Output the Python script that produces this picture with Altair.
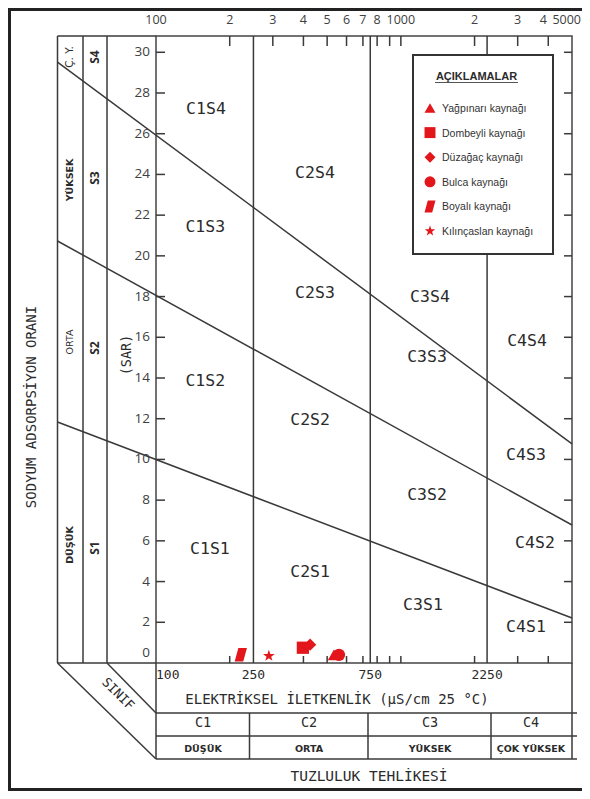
import altair as alt
import pandas as pd

# ---------------- data ----------------
SPRINGS = ["Yağpınarı kaynağı", "Dombeyli kaynağı", "Düzağaç kaynağı",
           "Bulca kaynağı", "Boyalı kaynağı", "Kılınçaslan kaynağı"]
SPRING_EC = [533, 398, 426, 559, 222, 289]          # µS/cm
SPRING_SAR = [0.40, 0.75, 0.90, 0.40, 0.40, 0.35]

CLASS_BOUNDS = [250, 750, 2250]                    # C1/C2, C2/C3, C3/C4

S_LINE_ID = ["S1/S2", "S1/S2", "S2/S3", "S2/S3", "S3/S4", "S3/S4"]
S_LINE_EC = [39.6, 5000, 39.6, 5000, 39.6, 5000]
S_LINE_SAR = [11.84, 2.21, 20.73, 6.78, 29.52, 10.76]

ZONE_LABELS = ["C1S4", "C1S3", "C1S2", "C1S1", "C2S4", "C2S3", "C2S2", "C2S1",
               "C3S4", "C3S3", "C3S2", "C3S1", "C4S4", "C4S3", "C4S2", "C4S1"]
ZONE_EC = [160, 159, 159, 166, 446, 446, 426, 426,
           1315, 1279, 1279, 1231, 3275, 3244, 3530, 3244]
ZONE_SAR = [27.2, 21.4, 13.85, 5.6, 24.07, 18.18, 11.94, 4.47,
            17.98, 15.03, 8.25, 2.85, 15.82, 10.22, 5.89, 1.77]

TOP_LABEL_VALUES = [100, 200, 300, 400, 500, 600, 700, 800, 1000, 2000, 3000]
TOP_LABELS = ["100", "2", "3", "4", "5", "6", "7", "8", "1000", "2", "3"]
TOP_4000_VALUE = [4000]
TOP_4000_LABEL = ["4"]
TOP_LAST_VALUE = [5000]
TOP_LAST_LABEL = ["5000"]
TOP_TICKS = [200, 300, 400, 500, 600, 700, 800, 900, 1000, 2000, 3000, 4000]
BOTTOM_TICKS = [200, 400, 500, 600, 700, 800, 900, 1000, 2000, 3000, 4000]
BOTTOM_LABEL_VALUES = [250, 750, 2250]
BOTTOM_FIRST_VALUE = [100]
SAR_TICKS = [2, 4, 6, 8, 10, 12, 14, 16, 18, 20, 22, 24, 26, 28, 30]
SAR_ZERO = [0]

C_CLASSES = ["C1", "C2", "C3", "C4"]
C_HAZARD = ["DÜŞÜK", "ORTA", "YÜKSEK", "ÇOK YÜKSEK"]
S_CLASSES = ["S4", "S3", "S2", "S1"]
S_HAZARD = ["Ç. Y.", "YÜKSEK", "ORTA", "DÜŞÜK"]

# ---------------- style / layout ----------------
W, H = 416, 627
RED = "#e2161b"
LINE = "#3a3a3a"
TXT = "#2b2b2b"
NUM = "#404040"
MONO = "DejaVu Sans Mono"
SANS = "Open Sans"
LEG = "Liberation Sans"
STAR = ("M0,-1L0.235,-0.324L0.951,-0.309L0.38,0.124L0.588,0.809L0,0.4"
        "L-0.588,0.809L-0.38,0.124L-0.951,-0.309L-0.235,-0.324Z")
PARA = "M-0.4,-1.1L1,-1.1L0.4,1.1L-1,1.1Z"
SHAPES = ["triangle-up", "square", "diamond", "circle", PARA, STAR]

xscale = alt.Scale(type="log", domain=[100, 5000], nice=False)
yscale = alt.Scale(domain=[0, 30.8], nice=False, zero=False)

base = alt.Chart(pd.DataFrame({"k": [0]}))


def X(field="EC"):
    return alt.X(f"{field}:Q", scale=xscale, axis=None)


def Y(field="SAR"):
    return alt.Y(f"{field}:Q", scale=yscale, axis=None)


def vrule(x1, y1, x2, y2, w=1.5, color=LINE):
    return base.mark_rule(strokeWidth=w, color=color).encode(
        x=alt.value(x1), y=alt.value(y1), x2=alt.value(x2), y2=alt.value(y2))


def vtext(txt, x, y, size, font, weight="normal", angle=0, align="center", color=TXT):
    return base.mark_text(text=txt, fontSize=size, font=font, fontWeight=weight,
                          angle=angle, align=align, baseline="middle", color=color).encode(
        x=alt.value(x), y=alt.value(y))


layers = []

# class boundary verticals
layers.append(alt.Chart(pd.DataFrame({"EC": CLASS_BOUNDS})).mark_rule(strokeWidth=1.5, color=LINE).encode(
    x=X(), y=alt.value(0), y2=alt.value(H)))

# sodium hazard boundary lines
sdf = pd.DataFrame({"line": S_LINE_ID, "EC": S_LINE_EC, "SAR": S_LINE_SAR})
layers.append(alt.Chart(sdf).mark_line(strokeWidth=1.5, color=LINE).encode(
    x=X(), y=Y(), detail="line:N"))

# SAR axis labels
layers.append(alt.Chart(pd.DataFrame({"SAR": SAR_TICKS})).mark_text(
    font=SANS, fontSize=13.5, color=NUM, align="right", baseline="middle", dx=-6).encode(
    y=Y(), x=alt.value(0), text="SAR:Q"))
layers.append(alt.Chart(pd.DataFrame({"SAR": SAR_ZERO})).mark_text(
    font=SANS, fontSize=13.5, color=NUM, align="right", baseline="middle", dx=-6, dy=-10).encode(
    y=Y(), x=alt.value(0), text="SAR:Q"))
# EC axis labels (bottom)
layers.append(alt.Chart(pd.DataFrame({"EC": BOTTOM_FIRST_VALUE})).mark_text(
    font=MONO, fontSize=13, color=TXT, align="left", baseline="top", dy=6).encode(
    x=X(), y=alt.value(H), text="EC:Q"))
layers.append(alt.Chart(pd.DataFrame({"EC": BOTTOM_LABEL_VALUES})).mark_text(
    font=MONO, fontSize=13, color=TXT, align="center", baseline="top", dy=6).encode(
    x=X(), y=alt.value(H), text="EC:Q"))

# inward ticks
sar_df = pd.DataFrame({"SAR": SAR_TICKS})
layers.append(alt.Chart(sar_df).mark_rule(strokeWidth=1.5, color=LINE).encode(
    y=Y(), x=alt.value(0), x2=alt.value(9)))
layers.append(alt.Chart(sar_df).mark_rule(strokeWidth=1.5, color=LINE).encode(
    y=Y(), x=alt.value(W - 8), x2=alt.value(W)))
layers.append(alt.Chart(pd.DataFrame({"EC": TOP_TICKS})).mark_rule(strokeWidth=1.5, color=LINE).encode(
    x=X(), y=alt.value(0), y2=alt.value(10)))
layers.append(alt.Chart(pd.DataFrame({"EC": BOTTOM_TICKS})).mark_rule(strokeWidth=1.5, color=LINE).encode(
    x=X(), y=alt.value(H - 7), y2=alt.value(H)))

# top labels
layers.append(alt.Chart(pd.DataFrame({"EC": TOP_LABEL_VALUES, "lab": TOP_LABELS})).mark_text(
    font=SANS, fontSize=12.5, color=NUM, baseline="middle").encode(
    x=X(), y=alt.value(-16), text="lab:N"))
layers.append(alt.Chart(pd.DataFrame({"EC": TOP_4000_VALUE, "lab": TOP_4000_LABEL})).mark_text(
    font=SANS, fontSize=12.5, color=NUM, baseline="middle", dx=-5).encode(
    x=X(), y=alt.value(-16), text="lab:N"))
layers.append(alt.Chart(pd.DataFrame({"EC": TOP_LAST_VALUE, "lab": TOP_LAST_LABEL})).mark_text(
    font=SANS, fontSize=12.5, color=NUM, baseline="middle", align="right", dx=9).encode(
    x=X(), y=alt.value(-16), text="lab:N"))

# left column frame
for cx in [-98.5, -73, -49]:
    layers.append(vrule(cx, 0, cx, H))
layers.append(vrule(-98.5, 0, 0, 0))
layers.append(vrule(-98.5, H, 0, H))
# diagonals
layers.append(vrule(-98.5, H, 0, H + 96))
layers.append(vrule(-49, H, 0, H + 50))
# bottom table
layers.append(vrule(0, H, 0, H + 96))
layers.append(vrule(W, H, W, H + 96))
for ty in [H + 50, H + 73, H + 96]:
    layers.append(vrule(0, ty, W + 5, ty))
for tx in [93.5, 212, 335]:
    layers.append(vrule(tx, H + 50, tx, H + 96))
# outer frame
layers.append(vrule(-146.5, -26.5, -146.5, 753.5, w=3, color="#222"))
layers.append(vrule(-148, -26.5, 426, -26.5, w=3, color="#222"))
layers.append(vrule(-148, 753.5, 426, 753.5, w=3, color="#222"))

# texts around
layers.append(vtext("SODYUM ADSORPSİYON ORANI", -124, 371, 14, MONO, angle=270))
for lab, yy in zip(S_HAZARD, [21, 144, 306, 509]):
    wt = "normal" if lab in ("Ç. Y.", "ORTA") else "bold"
    sz = 10.5 if lab == "Ç. Y." else 9.5
    layers.append(vtext(lab, -86, yy, sz, "DejaVu Sans", weight=wt, angle=270))
for lab, yy in zip(S_CLASSES, [21, 142, 312, 512]):
    layers.append(vtext(lab, -61, yy, 12, SANS, weight="bold", angle=270))
layers.append(vtext("(SAR)", -29, 319, 13.5, MONO, angle=270))
layers.append(vtext("SINIF", -38, 658, 13, MONO, angle=45))
layers.append(vtext("ELEKTRİKSEL İLETKENLİK (µS/cm  25 °C)", 181, 664, 14, MONO))
for lab, xx in zip(C_CLASSES, [47, 153, 274, 375]):
    layers.append(vtext(lab, xx, 687, 13.5, MONO))
for lab, xx in zip(C_HAZARD, [47, 153, 274, 375]):
    layers.append(vtext(lab, xx, 713, 9.5, "DejaVu Sans", weight="bold"))
layers.append(vtext("TUZLULUK TEHLİKESİ", 213, 741, 14.5, MONO))

# zone labels
zdf = pd.DataFrame({"lab": ZONE_LABELS, "EC": ZONE_EC, "SAR": ZONE_SAR})
layers.append(alt.Chart(zdf).mark_text(font=MONO, fontSize=16.5, color=TXT, baseline="middle").encode(
    x=X(), y=Y(), text="lab:N"))

# spring points
pts = pd.DataFrame({"spring": SPRINGS, "EC": SPRING_EC, "SAR": SPRING_SAR})
pts = pts.iloc[[2, 3, 0, 1, 4, 5]]
layers.append(alt.Chart(pts).mark_point(filled=True, color=RED, opacity=1, size=150).encode(
    x=X(), y=Y(),
    shape=alt.Shape("spring:N", scale=alt.Scale(domain=SPRINGS, range=SHAPES), legend=None)))

# legend box
layers.append(base.mark_rect(fill="white", stroke="#333", strokeWidth=2).encode(
    x=alt.value(257), x2=alt.value(397), y=alt.value(19), y2=alt.value(218)))
layers.append(vtext("AÇIKLAMALAR", 320.5, 40.7, 11, LEG, weight="bold"))
layers.append(vrule(279, 46.5, 362, 46.5, w=1, color="#555"))
for i, (name, shp) in enumerate(zip(SPRINGS, SHAPES)):
    yy = 72 + i * 24.6
    layers.append(base.mark_point(shape=shp, filled=True, color=RED, opacity=1, size=120).encode(
        x=alt.value(274), y=alt.value(yy)))
    layers.append(vtext(name, 286, yy + 1, 10.5, LEG, align="left", color="#333"))

chart = alt.layer(*layers).properties(
    width=W, height=H,
    padding={"left": 148, "top": 28, "right": 10, "bottom": 128},
    autosize=alt.AutoSizeParams(type="none"),
).configure_view(stroke="#444", strokeWidth=1.5)

chart.save("out.html", embed_options={"renderer": "svg", "actions": False})
